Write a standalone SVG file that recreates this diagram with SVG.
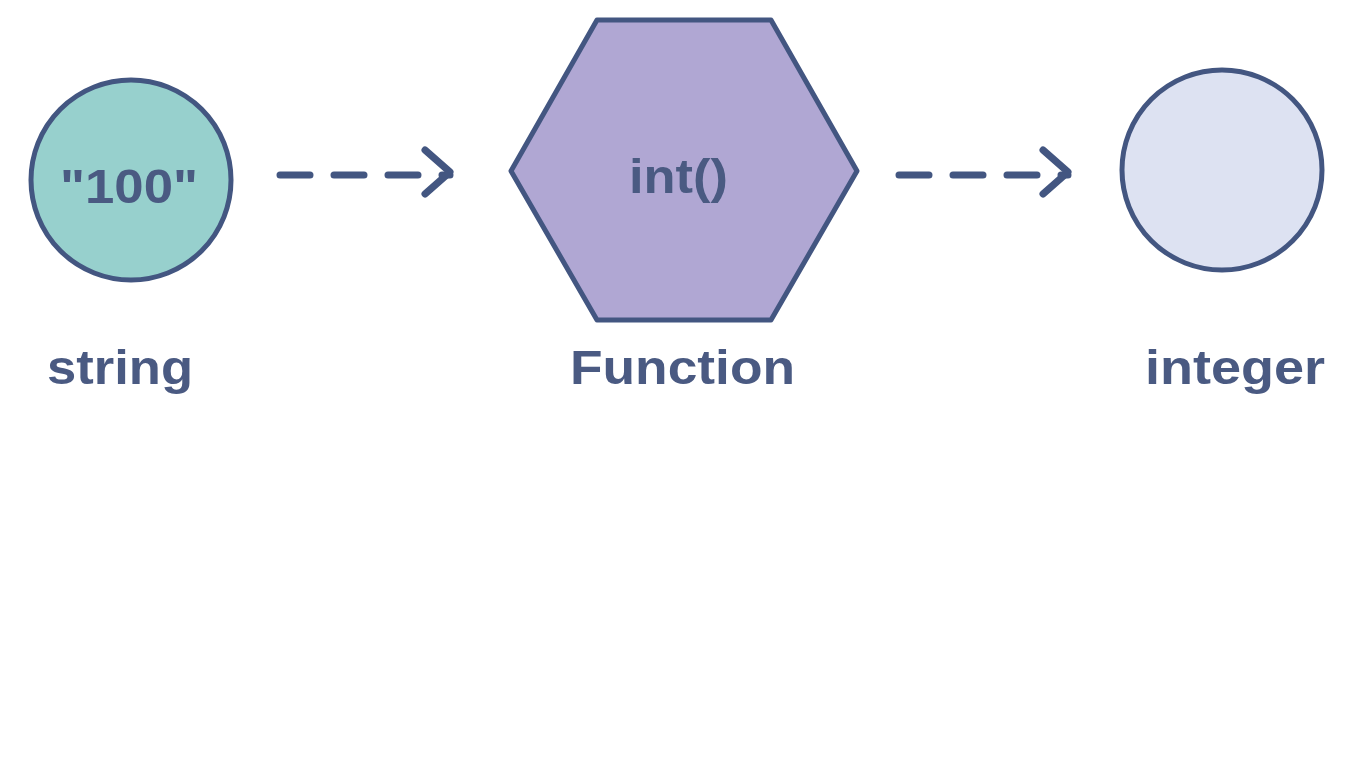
<svg xmlns="http://www.w3.org/2000/svg" width="1366" height="768" viewBox="0 0 1366 768">
<style>
.o{stroke:#435681;stroke-width:5;stroke-linejoin:round}
.t{font-family:"Liberation Sans",Arial,sans-serif;font-weight:bold;fill:#4a5a82;font-size:48px}
.c{fill:none;stroke:#435681;stroke-width:7;stroke-linecap:round;stroke-linejoin:round}
</style>
<rect width="1366" height="768" fill="#fff"/>
<g id="string">
<circle class="o" cx="131" cy="180" r="100" fill="#97d0cd"/>
<text class="t" x="60" y="203" textLength="138" lengthAdjust="spacingAndGlyphs">"100"</text>
<text class="t" x="47" y="384" textLength="146" lengthAdjust="spacingAndGlyphs">string</text>
</g>
<g id="function">
<polygon class="o" points="597,20 771,20 857,171 771,320 597,320 511,171" fill="#b0a7d3"/>
<text class="t" x="629" y="193" textLength="99" lengthAdjust="spacingAndGlyphs">int()</text>
<text class="t" x="570" y="384" textLength="225" lengthAdjust="spacingAndGlyphs">Function</text>
</g>
<g id="integer">
<circle class="o" cx="1222" cy="170" r="100" fill="#dde2f2"/>
<text class="t" x="1145" y="384" textLength="180" lengthAdjust="spacingAndGlyphs">integer</text>
</g>
<g id="connectors">
<path class="c" d="M280 175H450" stroke-dasharray="30,24"/>
<path class="c" d="M425 150L450 172L425 194"/>
<path class="c" d="M899 175H1068" stroke-dasharray="30,24"/>
<path class="c" d="M1043 150L1068 172L1043 194"/>
</g>
</svg>
